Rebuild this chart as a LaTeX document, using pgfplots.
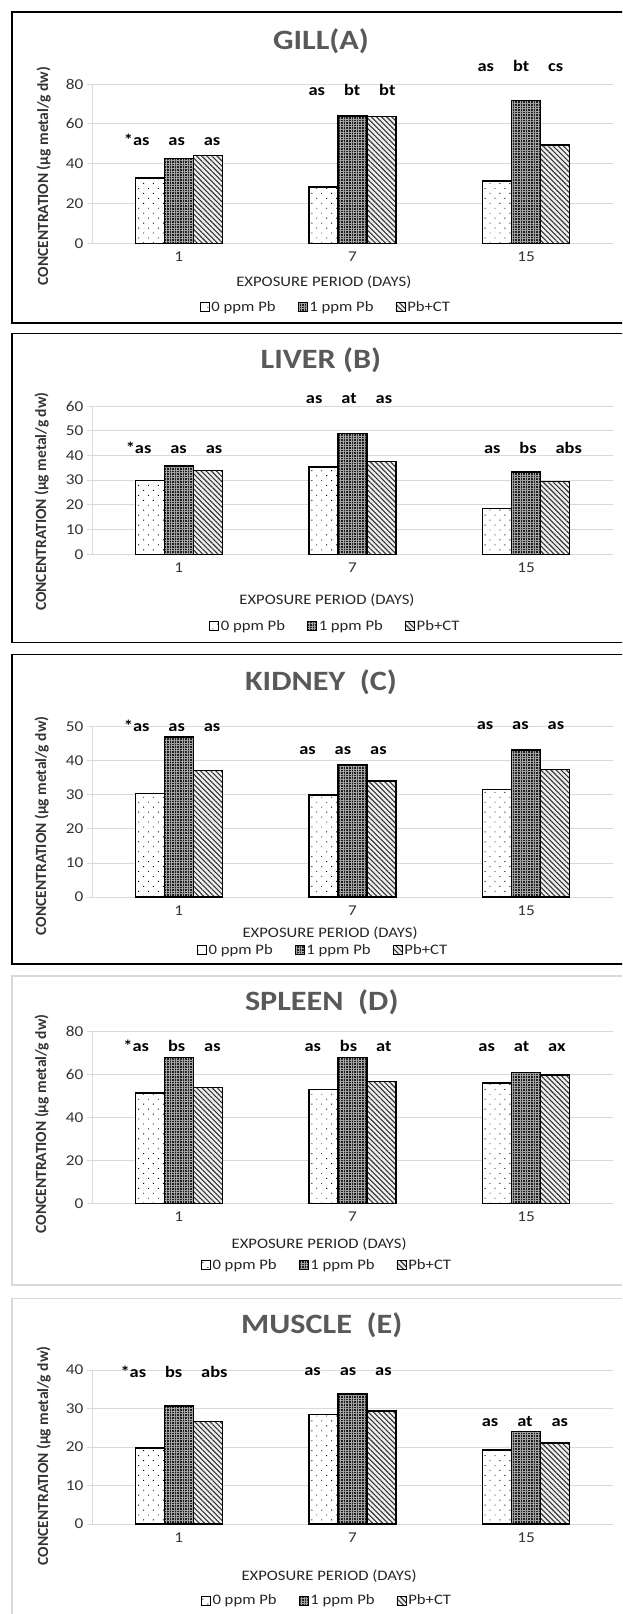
\documentclass[border=0pt]{standalone}
\usepackage{fontspec}
\setmainfont{Carlito}[FakeStretch=1.15]
\newfontfamily\ylabfont{Carlito}
\usepackage{pgfplots}
\pgfplotsset{compat=1.18}
\usetikzlibrary{patterns,patterns.meta}

\newcommand{\gap}{\hspace{19pt}}

\tikzset{ann/.style={font=\bfseries\fontsize{16}{18}\selectfont, text=black, inner sep=0pt, anchor=center}}

\pgfplotsset{
  sq legend/.style={legend image code/.code={\draw[##1, line width=0.7pt] (0pt,-4.5pt) rectangle (9pt,4.5pt);}},
  s1/.style={draw=black, line width=1.5pt, fill=white,
    postaction={pattern={Dots[angle=45,distance=7pt,radius=0.65pt]}, pattern color=black}, sq legend},
  s2/.style={draw=black, line width=1.5pt, fill=black!88,
    postaction={pattern={Hatch[angle=0,distance=2.6pt,line width=0.8pt]}, pattern color=black!35}, sq legend},
  s3/.style={draw=black, line width=1.5pt, fill=black!6,
    postaction={pattern={Lines[angle=-45,distance=3.6pt,line width=1.1pt]}, pattern color=black!80}, sq legend},
  panel/.style={
    ybar=0pt, bar width=29pt,
    scale only axis, width=521pt,
    anchor=south west,
    xmin=-0.5, xmax=2.5, ymin=0,
    xtick={0,1,2}, xticklabels={1,7,15},
    axis lines*=left,
    axis line style={draw=black!15, line width=0.8pt, -},
    ymajorgrids, major grid style={draw=black!15, line width=0.8pt},
    tick align=outside, major tick length=5pt,
    xtick style={draw=none},
    ytick style={draw=black!15, line width=0.8pt},
    tick label style={font=\fontsize{15}{17}\selectfont, text=black!80},
    /pgf/number format/assume math mode=true,
    clip=false,
    title style={font=\bfseries\fontsize{28}{30}\selectfont, text=black!65, anchor=center},
    xlabel style={font=\fontsize{14.5}{16}\selectfont, text=black!85, anchor=center},
    ylabel style={font=\ylabfont\bfseries\fontsize{15.5}{18}\selectfont, text=black!80, anchor=center},
    legend columns=3,
    legend style={draw=none, fill=none, anchor=center, font=\fontsize{14.5}{16}\selectfont, text=black!85,
      /tikz/every even column/.append style={column sep=20pt}},
    xlabel={EXPOSURE PERIOD (DAYS)},
    ylabel={CONCENTRATION (µg metal/g dw)},
  },
}

\begin{document}
\begin{tikzpicture}[x=1pt,y=1pt]
\path[use as bounding box, clip] (0,0) rectangle (622,-1614);
\draw[black, line width=1.5pt] (12,-12) rectangle (700,-323);
\draw[black, line width=1.5pt] (12,-333.3) rectangle (700,-642.7);
\draw[black, line width=1.5pt] (12,-654.7) rectangle (700,-964);
\draw[black!15, line width=1.5pt] (12,-976) rectangle (700,-1285);
\draw[black!15, line width=1.5pt] (12,-1298.3) rectangle (700,-1700);

% ---------------- GILL (A)
\begin{axis}[panel, at={(92pt,-243.5pt)}, height=159.5pt, ymax=80, ytick={0,20,40,60,80},
  title={GILL(A)}, title style={at={(axis description cs:0.4395,1.232)}},
  xlabel style={at={(axis description cs:0.445,-0.241)}},
  ylabel style={at={(axis description cs:-0.0929,0.423)}},
  legend style={at={(axis description cs:0.449,-0.398)}}]
\addplot[s1] coordinates {(0,32.9) (1,28.4) (2,31.4)};
\addplot[s2] coordinates {(0,42.6) (1,63.9) (2,71.8)};
\addplot[s3] coordinates {(0,44.2) (1,63.6) (2,49.4)};
\legend{0 ppm Pb, 1 ppm Pb, Pb+CT}
\node[ann] at (axis cs:-0.039,52) {*as\gap as\gap as};
\node[ann] at (axis cs:0.997,77) {as\gap bt\gap bt};
\node[ann] at (axis cs:1.967,89) {as\gap bt\gap cs};
\end{axis}

% ---------------- LIVER (B)
\begin{axis}[panel, at={(92pt,-554.3pt)}, height=148.3pt, ymax=60, ytick={0,10,...,60},
  title={LIVER (B)}, title style={at={(axis description cs:0.4395,1.265)}},
  xlabel style={at={(axis description cs:0.451,-0.308)}},
  ylabel style={at={(axis description cs:-0.0967,0.355)}},
  legend style={at={(axis description cs:0.467,-0.483)}}]
\addplot[s1] coordinates {(0,29.8) (1,35.4) (2,18.6)};
\addplot[s2] coordinates {(0,35.8) (1,48.9) (2,33.2)};
\addplot[s3] coordinates {(0,34.0) (1,37.5) (2,29.4)};
\legend{0 ppm Pb, 1 ppm Pb, Pb+CT}
\node[ann] at (axis cs:-0.028,43.1) {*as\gap as\gap as};
\node[ann] at (axis cs:0.980,63.1) {as\gap at\gap as};
\node[ann] at (axis cs:2.039,43.1) {as\gap bs\gap abs};
\end{axis}

% ---------------- KIDNEY (C)
\begin{axis}[panel, at={(92pt,-897pt)}, height=170.3pt, ymax=50, ytick={0,10,...,50},
  title={KIDNEY\ \ (C)}, title style={at={(axis description cs:0.4395,1.2255)}},
  xlabel style={at={(axis description cs:0.457,-0.2096)}},
  ylabel style={at={(axis description cs:-0.0967,0.418)}},
  legend style={at={(axis description cs:0.4434,-0.311)}}]
\addplot[s1] coordinates {(0,30.4) (1,29.9) (2,31.6)};
\addplot[s2] coordinates {(0,47.0) (1,38.7) (2,43.1)};
\addplot[s3] coordinates {(0,37.1) (1,34.0) (2,37.5)};
\legend{0 ppm Pb, 1 ppm Pb, Pb+CT}
\node[ann] at (axis cs:-0.039,50.2) {*as\gap as\gap as};
\node[ann] at (axis cs:0.945,43.1) {as\gap as\gap as};
\node[ann] at (axis cs:1.967,50.2) {as\gap as\gap as};
\end{axis}

% ---------------- SPLEEN (D)
\begin{axis}[panel, at={(92pt,-1203.3pt)}, height=171.6pt, ymax=80, ytick={0,20,40,60,80},
  title={SPLEEN\ \ (D)}, title style={at={(axis description cs:0.441,1.136)}},
  xlabel style={at={(axis description cs:0.436,-0.237)}},
  ylabel style={at={(axis description cs:-0.0967,0.463)}},
  legend style={at={(axis description cs:0.451,-0.36)}}]
\addplot[s1] coordinates {(0,51.5) (1,53.1) (2,56.2)};
\addplot[s2] coordinates {(0,67.9) (1,67.9) (2,61.0)};
\addplot[s3] coordinates {(0,53.9) (1,56.7) (2,59.9)};
\legend{0 ppm Pb, 1 ppm Pb, Pb+CT}
\node[ann] at (axis cs:-0.039,73.3) {*as\gap bs\gap as};
\node[ann] at (axis cs:0.974,73.3) {as\gap bs\gap at};
\node[ann] at (axis cs:1.976,73.3) {as\gap at\gap ax};
\end{axis}

% ---------------- MUSCLE (E)
\begin{axis}[panel, at={(92pt,-1524pt)}, height=154pt, ymax=40, ytick={0,10,...,40},
  title={MUSCLE\ \ (E)}, title style={at={(axis description cs:0.441,1.249)}},
  xlabel style={at={(axis description cs:0.455,-0.342)}},
  ylabel style={at={(axis description cs:-0.0929,0.443)}},
  legend style={at={(axis description cs:0.451,-0.498)}}]
\addplot[s1] coordinates {(0,19.7) (1,28.4) (2,19.2)};
\addplot[s2] coordinates {(0,30.6) (1,33.8) (2,24.0)};
\addplot[s3] coordinates {(0,26.6) (1,29.4) (2,21.1)};
\legend{0 ppm Pb, 1 ppm Pb, Pb+CT}
\node[ann] at (axis cs:-0.028,39.6) {*as\gap bs\gap abs};
\node[ann] at (axis cs:0.974,39.6) {as\gap as\gap as};
\node[ann] at (axis cs:1.993,26.6) {as\gap at\gap as};
\end{axis}
\end{tikzpicture}
\end{document}
